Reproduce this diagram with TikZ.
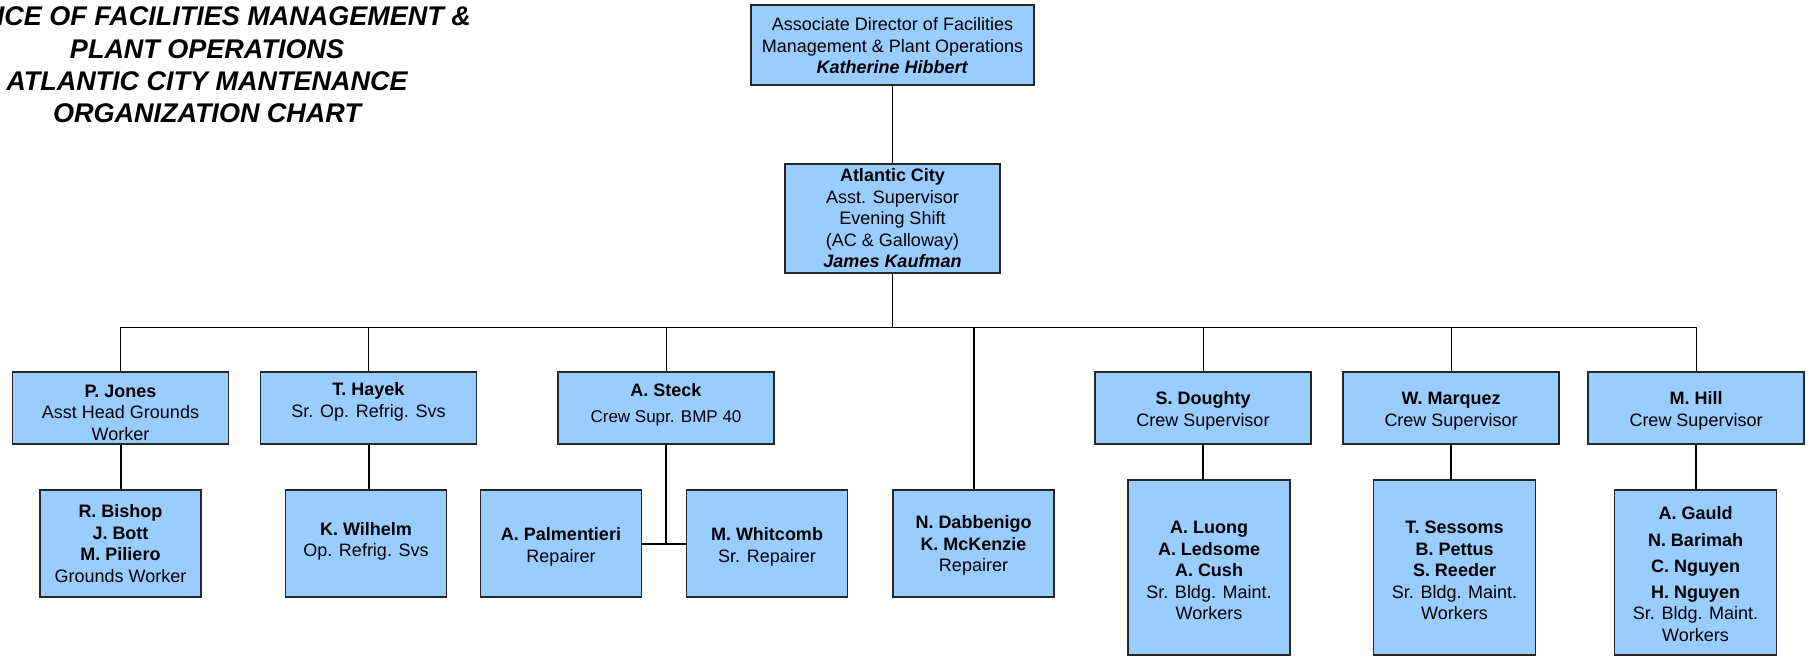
\documentclass[tikz,border=0pt]{standalone}
\usepackage{fontspec}
\setmainfont{Liberation Sans}
\definecolor{boxblue}{RGB}{153,204,255}
\newcommand\tgap[1]{\rule{0pt}{#1pt}}
\newcommand\dgap[1]{\rule[-#1pt]{0pt}{#1pt}}
\begin{document}
\begin{tikzpicture}[x=1pt,y=-1pt,
  box/.style={draw=black!85, line width=1.5pt, fill=boxblue, align=center, inner sep=0pt,
              font=\fontsize{18}{21.5}\selectfont},
  rowtwo/.style={box, minimum width=216pt, minimum height=72pt},
  rowthree/.style={box, minimum width=161pt, minimum height=107pt},
  tallbox/.style={box, minimum width=162pt, minimum height=175pt},
  conn/.style={line width=1pt, draw=black},
  connb/.style={line width=2pt, draw=black},
  titlefont/.style={font=\fontsize{27}{32}\selectfont\bfseries\itshape, inner sep=0pt}
]
\useasboundingbox (0,0) rectangle (1811,657);

% title
\node[titlefont, anchor=east] (title1) at (471,16) {ICE OF FACILITIES MANAGEMENT \&};
\node[titlefont, align=center] (title2) at (207,81) {PLANT OPERATIONS\\ATLANTIC CITY MANTENANCE\\ORGANIZATION CHART};

% top levels
\node[box, minimum width=283pt, minimum height=80pt] (top) at (892.5,45)
  {\tgap{15}Associate Director of Facilities\\Management \& Plant Operations\\\textbf{\textit{Katherine Hibbert}}};
\node[box, minimum width=215pt, minimum height=109pt] (ac) at (892.5,218.5)
  {\textbf{Atlantic City}\\Asst. Supervisor\\Evening Shift\\(AC \& Galloway)\\\textbf{\textit{James Kaufman}}};
\coordinate (bus) at (892.5,327);

% row two
\node[rowtwo] (jones) at (120.5,408) {\tgap{22}\textbf{P. Jones}\\Asst Head Grounds\\Worker};
\node[rowtwo] (hayek) at (368.5,408) {\tgap{14}\textbf{T. Hayek}\\Sr. Op. Refrig. Svs\dgap{17}};
\node[rowtwo] (steck) at (666,408) {\tgap{16}\textbf{A. Steck}\\[5pt]{\fontsize{17}{21}\selectfont Crew Supr. BMP 40}\dgap{13}};
\node[rowtwo] (doughty) at (1203,408) {\tgap{19}\textbf{S. Doughty}\\Crew Supervisor};
\node[rowtwo] (marquez) at (1451,408) {\tgap{19}\textbf{W. Marquez}\\Crew Supervisor};
\node[rowtwo] (hill) at (1696,408) {\tgap{19}\textbf{M. Hill}\\Crew Supervisor};

% row three
\node[rowthree] (bishop) at (120.5,543.5) {\textbf{R. Bishop}\\\textbf{J. Bott}\\\textbf{M. Piliero}\\Grounds Worker};
\node[rowthree] (wilhelm) at (366,543.5) {\tgap{25}\textbf{K. Wilhelm}\\Op. Refrig. Svs\\[-8pt]\strut};
\node[rowthree] (palm) at (561,543.5) {\tgap{20}\textbf{A. Palmentieri}\\Repairer};
\node[rowthree] (whit) at (767,543.5) {\tgap{20}\textbf{M. Whitcomb}\\Sr. Repairer};
\node[rowthree] (dab) at (973.5,543.5) {\tgap{17}\textbf{N. Dabbenigo}\\\textbf{K. McKenzie}\\Repairer};
\node[tallbox] (luong) at (1209,567.5) {\tgap{19}\textbf{A. Luong}\\\textbf{A. Ledsome}\\\textbf{A. Cush}\\Sr. Bldg. Maint.\\Workers};
\node[tallbox] (sessoms) at (1454.5,567.5) {\tgap{19}\textbf{T. Sessoms}\\\textbf{B. Pettus}\\\textbf{S. Reeder}\\Sr. Bldg. Maint.\\Workers};
\node[tallbox, minimum height=165pt] (gauld) at (1695.5,572.5)
  {\tgap{16}\textbf{A. Gauld}\\[5pt]\textbf{N. Barimah}\\[5pt]\textbf{C. Nguyen}\\[4pt]\textbf{H. Nguyen}\\Sr. Bldg. Maint.\\Workers};

% connectors
\draw[conn] (top.south) -- (ac.north);
\draw[conn] (ac.south) -- (bus);
\draw[conn] (jones.north |- bus) -- (hill.north |- bus);
\foreach \n in {jones,hayek,steck,doughty,marquez,hill}
  \draw[conn] (\n.north |- bus) -- (\n.north);
\draw[connb] (dab.north |- bus) -- (dab.north);
\draw[connb] (jones.south) -- (jones.south |- bishop.north);
\draw[connb] (hayek.south) -- (hayek.south |- wilhelm.north);
\draw[connb] (steck.south) -- (steck.south |- palm.east);
\draw[connb] (palm.east) -- (whit.west);
\draw[connb] (doughty.south) -- (doughty.south |- luong.north);
\draw[connb] (marquez.south) -- (marquez.south |- sessoms.north);
\draw[connb] (hill.south) -- (hill.south |- gauld.north);
\end{tikzpicture}
\end{document}
